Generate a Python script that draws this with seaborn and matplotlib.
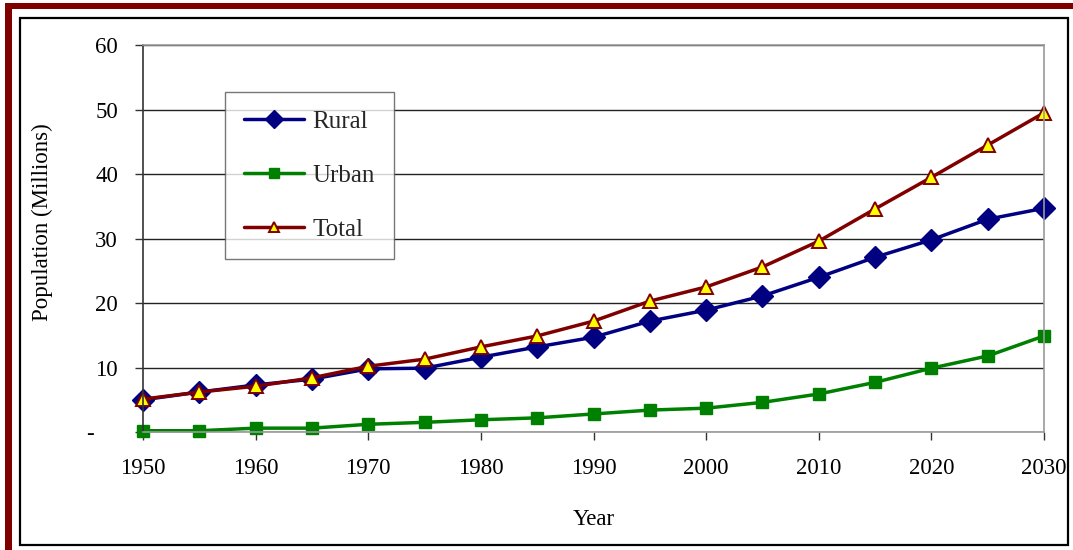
import pandas as pd
import matplotlib
matplotlib.use("Agg")
import matplotlib.pyplot as plt
import seaborn as sns
from matplotlib.patches import Rectangle

years = [1950, 1955, 1960, 1965, 1970, 1975, 1980, 1985, 1990, 1995,
         2000, 2005, 2010, 2015, 2020, 2025, 2030]
rural = [5.0, 6.2, 7.3, 8.2, 9.8, 9.9, 11.6, 13.2, 14.7, 17.2,
         18.9, 21.1, 24.0, 27.1, 29.8, 33.0, 34.7]
urban = [0.2, 0.2, 0.6, 0.6, 1.2, 1.5, 1.9, 2.2, 2.8, 3.4,
         3.7, 4.6, 5.9, 7.7, 9.9, 11.8, 14.9]
total = [5.1, 6.2, 7.1, 8.4, 10.2, 11.3, 13.2, 14.9, 17.2, 20.3,
         22.5, 25.6, 29.6, 34.6, 39.5, 44.5, 49.5]
x_ticks = [1950, 1960, 1970, 1980, 1990, 2000, 2010, 2020, 2030]
y_ticks = [0, 10, 20, 30, 40, 50, 60]
y_labels = ["-    ", "10", "20", "30", "40", "50", "60"]

df = pd.DataFrame({"Year": years, "Rural": rural, "Urban": urban, "Total": total})

sns.set_style("white")
plt.rcParams["font.family"] = ["Liberation Serif", "DejaVu Serif"]

fig = plt.figure(figsize=(10.73, 5.5), dpi=100)
ax = fig.add_axes([0.1333, 0.2145, 0.8397, 0.7035])

styles = {
    "Rural": dict(color="#000080", marker="D", markersize=11, mfc="#000080", mec="#000080"),
    "Urban": dict(color="#008000", marker="s", markersize=8.5, mfc="#008000", mec="#008000"),
    "Total": dict(color="#800000", marker="^", markersize=9.5, mfc="#FFFF00", mec="#800000", mew=1.4),
}
for name, st in styles.items():
    sns.lineplot(data=df, x="Year", y=name, ax=ax, label=name, linewidth=2.5,
                 color=st["color"], marker=st["marker"], markersize=st["markersize"],
                 markerfacecolor=st["mfc"], markeredgecolor=st["mec"],
                 markeredgewidth=st.get("mew", 1.0), clip_on=False)

ax.set_xlim(1950, 2030)
ax.set_ylim(0, 60)
ax.set_xticks(x_ticks)
ax.set_yticks(y_ticks)
ax.set_yticklabels(y_labels)
ax.tick_params(axis="both", labelsize=16.5, direction="out", length=6, width=1,
               color="#333333", left=True, bottom=True, labelcolor="black")
ax.tick_params(axis="x", pad=13)
ax.tick_params(axis="y", pad=12)
ax.yaxis.grid(True, color="#222222", linewidth=1)
ax.set_axisbelow(True)
for s in ["top", "right", "bottom"]:
    ax.spines[s].set_color("#999999")
    ax.spines[s].set_linewidth(1.2)
ax.spines["left"].set_color("#333333")
ax.spines["left"].set_linewidth(1.2)

ax.set_xlabel("Year", fontsize=16.5, labelpad=21, color="black")
ax.set_ylabel("Population (Millions)", fontsize=16.5, color="black")
ax.yaxis.set_label_coords(-0.1, 0.543)

leg = ax.legend(loc="upper left", bbox_to_anchor=(0.091, 0.879), borderaxespad=0,
                fontsize=18, frameon=True, fancybox=False, borderpad=0.75,
                labelspacing=1.25, handlelength=2.4, handletextpad=0.35,
                markerscale=0.8)
leg.get_frame().set_edgecolor("#555555")
leg.get_frame().set_linewidth(1)

# outer frame
fig.patches.append(Rectangle((20 / 1073, 5 / 550), 1048 / 1073, 527 / 550,
                             transform=fig.transFigure, fill=False,
                             edgecolor="black", linewidth=1.6))
fig.patches.append(Rectangle((5 / 1073, 541 / 550), 1068 / 1073, 6 / 550,
                             transform=fig.transFigure, facecolor="#800000",
                             edgecolor="none"))
fig.patches.append(Rectangle((5 / 1073, 0), 7 / 1073, 547 / 550,
                             transform=fig.transFigure, facecolor="#800000",
                             edgecolor="none"))

fig.savefig("out.png", dpi=100)
